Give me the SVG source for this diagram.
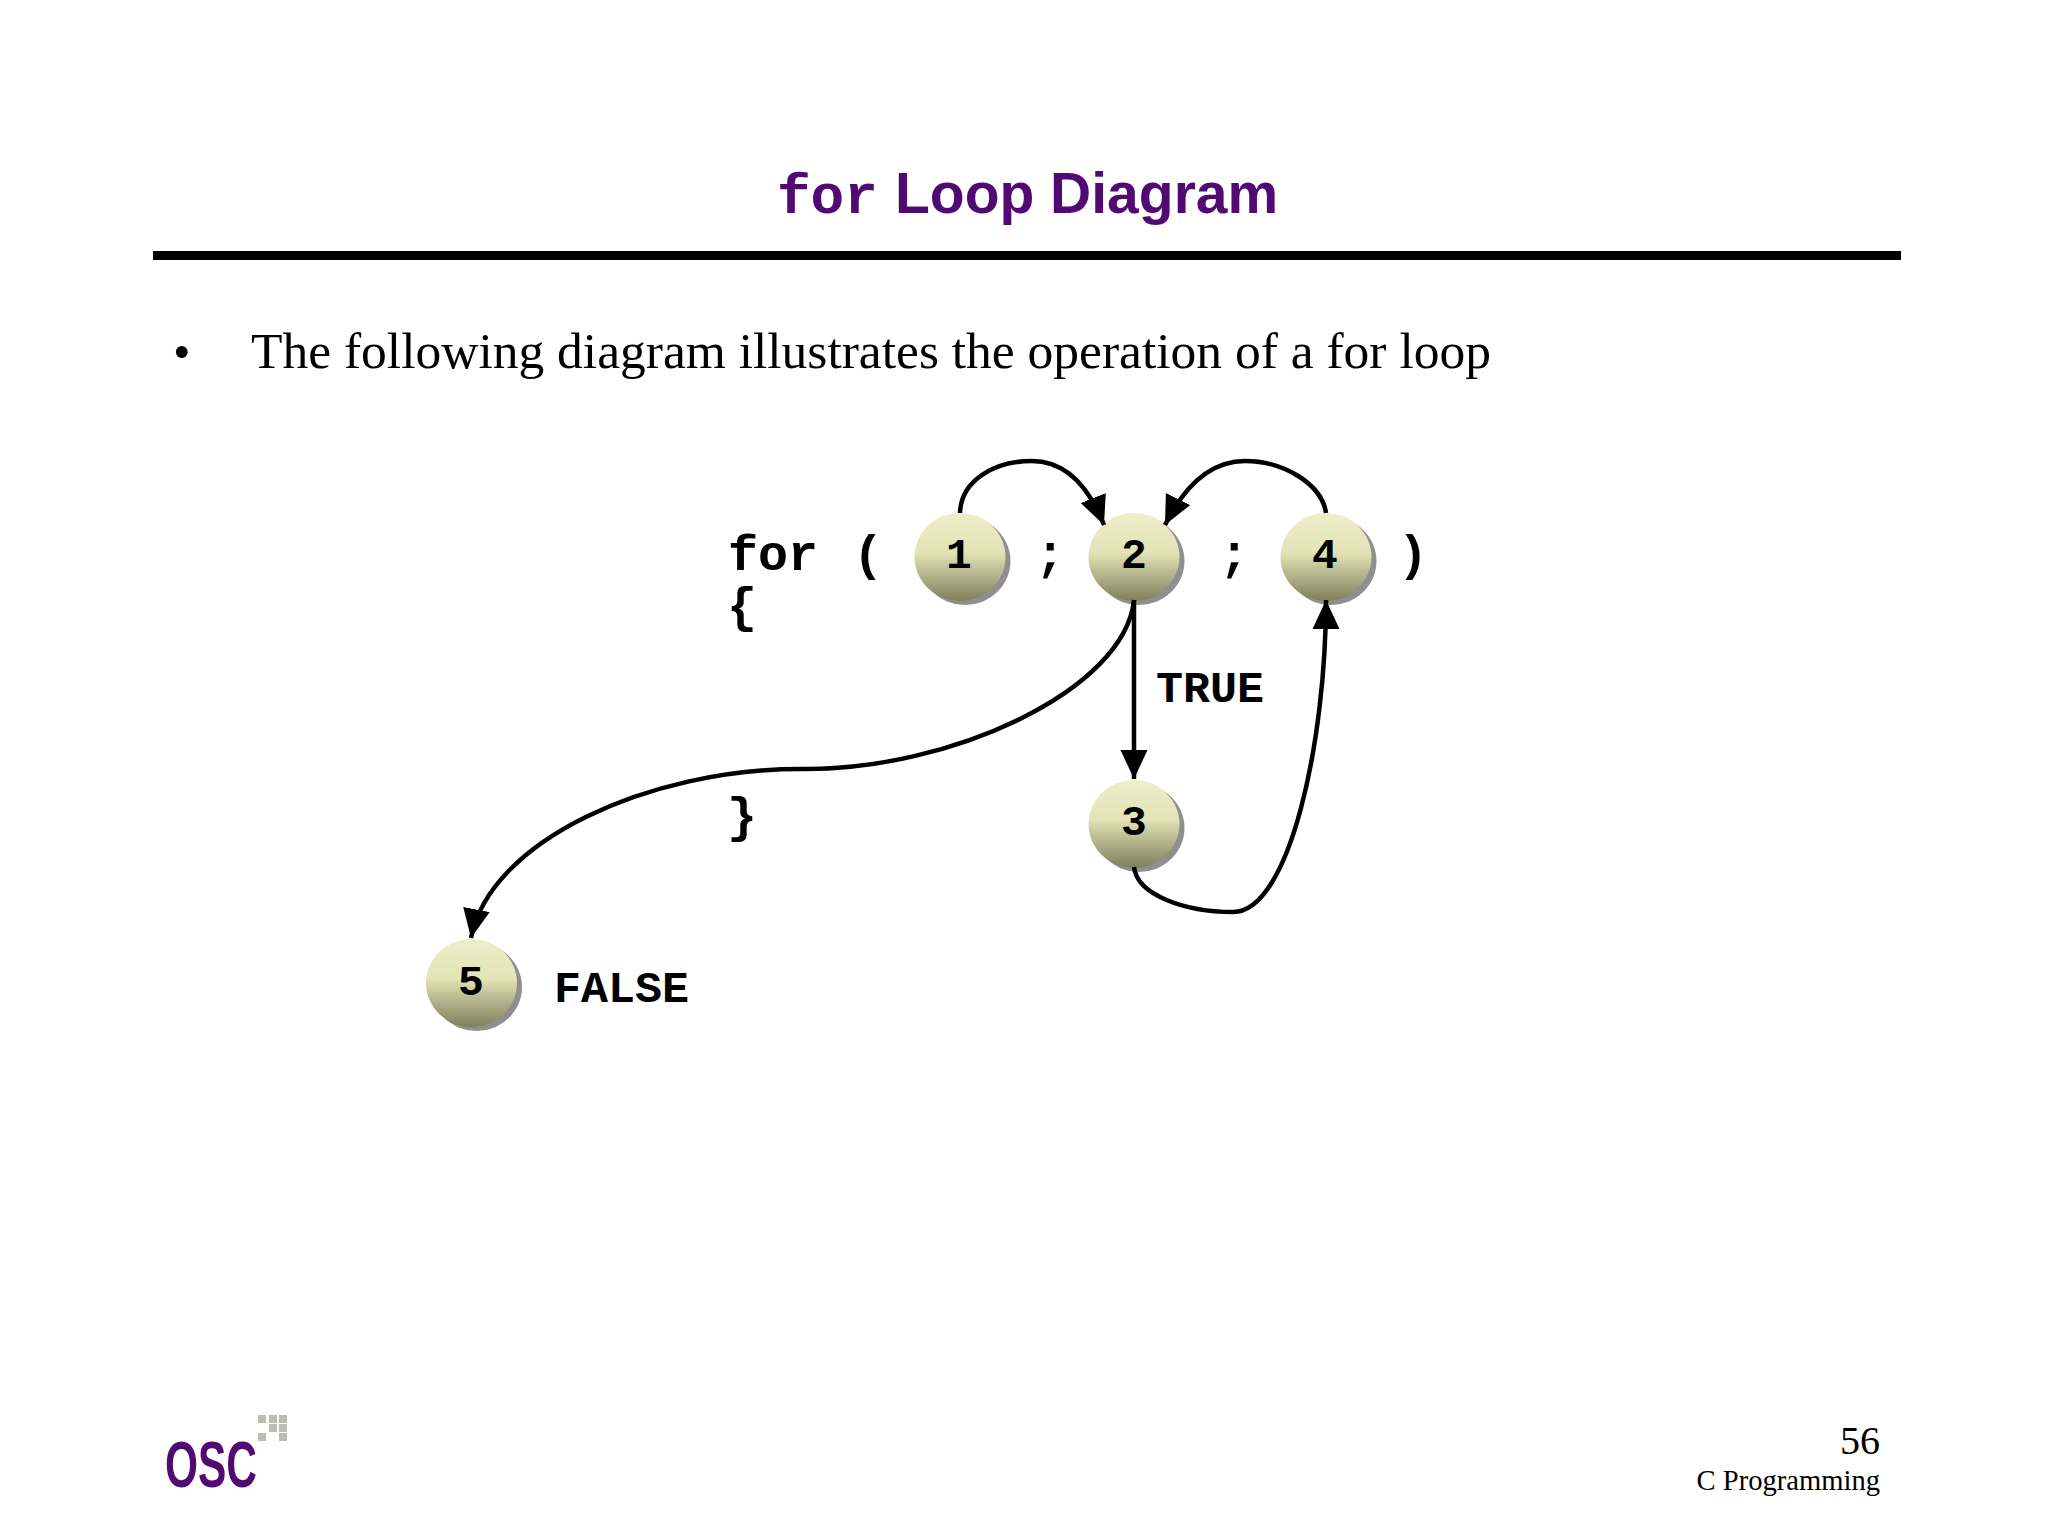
<svg xmlns="http://www.w3.org/2000/svg" width="2048" height="1534" viewBox="0 0 2048 1534">
<style>
.m{font-family:"Liberation Mono",monospace;font-weight:bold;fill:#000}
.big{font-size:50px;text-anchor:middle}
.lab{font-size:45px}
.num{font-size:43px;text-anchor:middle}
.s{font-family:"Liberation Serif",serif;fill:#000}
.c{fill:none;stroke:#000;stroke-width:4.500}
.g{fill:#bdbdb6}
</style>
<defs>
<linearGradient id="ball" x1="0" y1="0" x2="0" y2="1">
<stop offset="0" stop-color="#eeeec9"/><stop offset="0.45" stop-color="#e3e3b6"/><stop offset="1" stop-color="#7e7e5c"/>
</linearGradient>
<marker id="arr" markerUnits="userSpaceOnUse" markerWidth="30" markerHeight="28" refX="29" refY="13.500" orient="auto">
<path d="M0 0L29 13.500L0 27Z" fill="#000"/>
</marker>
<g id="ballshape">
<ellipse cx="5" cy="4" rx="45.500" ry="44" fill="#8f8f8f"/>
<ellipse cx="0" cy="0" rx="45.500" ry="44" fill="url(#ball)"/>
</g>
</defs>
<rect width="2048" height="1534" fill="#fff"/>
<g id="title">
<text x="777" y="213" class="m" style="font-size:56px;fill:#500a72">for</text>
<text x="895" y="213" style="font-family:'Liberation Sans',sans-serif;font-weight:bold;font-size:57px;fill:#500a72">Loop Diagram</text>
<rect x="153" y="251" width="1748" height="9" fill="#000"/>
</g>
<g id="bullet">
<text x="173" y="369" class="s" style="font-size:50px">•</text>
<text x="251" y="368" class="s" style="font-size:51.500px">The following diagram illustrates the operation of a for loop</text>
</g>
<g id="code">
<text x="773" y="570" class="m big">for</text>
<text x="868" y="570" class="m big">(</text>
<text x="1050" y="570" class="m big">;</text>
<text x="1234" y="570" class="m big">;</text>
<text x="1413" y="570" class="m big">)</text>
<text x="742" y="622" class="m big">{</text>
<text x="742" y="832" class="m big">}</text>
</g>
<g id="node1"><use href="#ballshape" x="960" y="557"/><text x="959" y="568" class="m num">1</text></g>
<g id="node2"><use href="#ballshape" x="1134" y="557"/><text x="1134" y="568" class="m num">2</text></g>
<g id="node4"><use href="#ballshape" x="1326" y="557"/><text x="1325" y="568" class="m num">4</text></g>
<g id="node3"><use href="#ballshape" x="1134" y="824"/><text x="1134" y="835" class="m num">3</text></g>
<g id="node5"><use href="#ballshape" x="471.500" y="983"/><text x="471" y="995" class="m num">5</text></g>
<g id="connectors">
<path class="c" marker-end="url(#arr)" d="M960 513C961 480 995 461 1032 461C1065 461 1088 485 1104 525"/>
<path class="c" marker-end="url(#arr)" d="M1326 513C1322 485 1285 461 1245 461C1212 461 1185 485 1165 525"/>
<path class="c" marker-end="url(#arr)" d="M1134 600V779"/>
<path class="c" marker-end="url(#arr)" d="M1134 867C1137 895 1185 912 1233 912C1290 912 1326 740 1326 600"/>
<path class="c" marker-end="url(#arr)" d="M1134 600C1125 690 950 771 800 769C650 769 490 840 471 938"/>
</g>
<text x="1156" y="702" class="m lab">TRUE</text>
<text x="554" y="1002" class="m lab">FALSE</text>
<g id="logo">
<text x="165" y="1487" textLength="92" lengthAdjust="spacingAndGlyphs" style="font-family:'Liberation Sans',sans-serif;font-weight:bold;font-size:64px;fill:#500a72">OSC</text>
<rect class="g" x="258" y="1415" width="8" height="8"/><rect class="g" x="269" y="1415" width="8" height="8"/><rect class="g" x="279" y="1415" width="8" height="8"/>
<rect class="g" x="269" y="1424" width="8" height="8"/><rect class="g" x="279" y="1424" width="8" height="8"/>
<rect class="g" x="258" y="1433" width="8" height="8"/><rect class="g" x="279" y="1433" width="8" height="8"/>
</g>
<g id="footer">
<text x="1880" y="1454" text-anchor="end" class="s" style="font-size:40px">56</text>
<text x="1880" y="1490" text-anchor="end" class="s" style="font-size:28.600px">C Programming</text>
</g>
</svg>
